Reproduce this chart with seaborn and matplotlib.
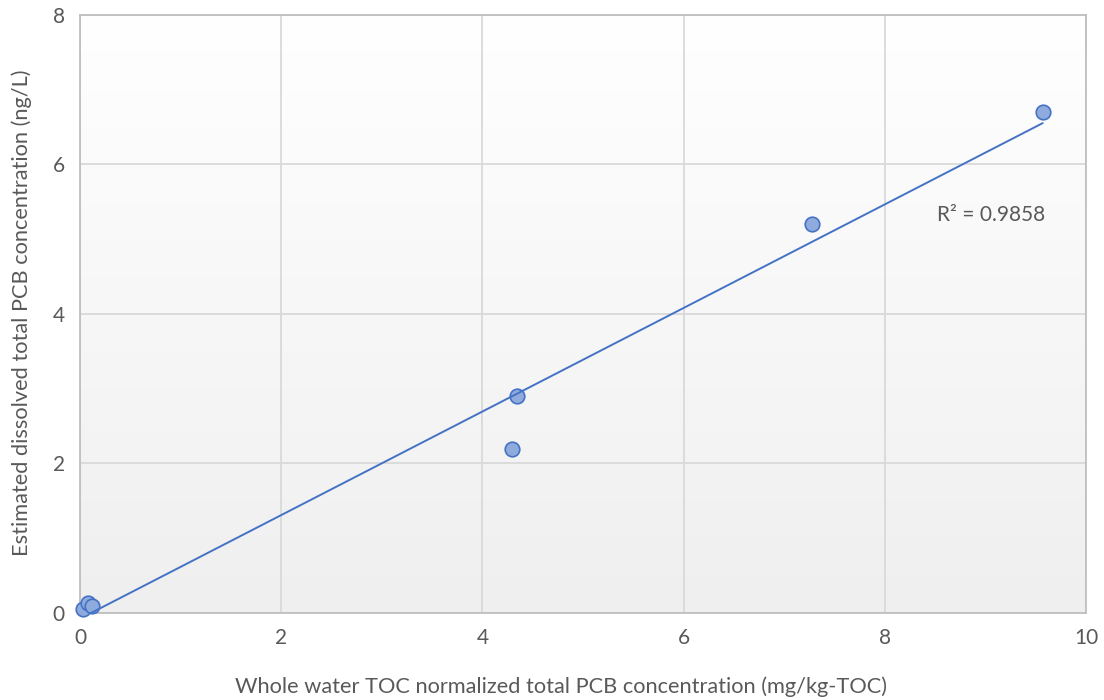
import numpy as np
import pandas as pd
import matplotlib
matplotlib.use("Agg")
import matplotlib.pyplot as plt
from matplotlib.colors import LinearSegmentedColormap
import seaborn as sns

# Whole water TOC-normalized PCB vs estimated dissolved PCB
toc_norm_pcb = [0.03, 0.08, 0.12, 4.29, 4.34, 7.28, 9.57]
dissolved_pcb = [0.05, 0.13, 0.10, 2.20, 2.90, 5.20, 6.70]
r2_label = "R² = 0.9858"

x_ticks = [0, 2, 4, 6, 8, 10]
y_ticks = [0, 2, 4, 6, 8]

df = pd.DataFrame({"x": toc_norm_pcb, "y": dissolved_pcb})

sns.set_theme(style="white")
plt.rcParams["font.family"] = ["Lato", "DejaVu Sans"]

text_grey = "#595959"
grid_grey = "#d9d9d9"
blue_edge = "#4472c4"
blue_fill = "#8faadc"

fig = plt.figure(figsize=(11.04, 7.0), dpi=100)
ax = fig.add_axes([0.0725, 0.1243, 0.9112, 0.8543])

# Plot-area shading: white at the top fading to light grey at the bottom
grad = np.linspace(0, 1, 256).reshape(-1, 1)
cmap = LinearSegmentedColormap.from_list("bg", ["#ffffff", "#efefef"])
ax.imshow(grad, cmap=cmap, aspect="auto", extent=[0, 10, 0, 8],
          origin="upper", zorder=0, interpolation="bicubic")

sns.scatterplot(data=df, x="x", y="y", ax=ax, s=110, color=blue_fill,
                edgecolor=blue_edge, linewidth=1.2, zorder=3, legend=False,
                clip_on=False)
sns.regplot(data=df, x="x", y="y", ax=ax, scatter=False, ci=None,
            truncate=True, color=blue_edge, line_kws={"lw": 1.4, "zorder": 4})

ax.set_xlim(0, 10)
ax.set_ylim(0, 8)
ax.set_xticks(x_ticks)
ax.set_yticks(y_ticks)
ax.grid(True, color=grid_grey, lw=1.3, zorder=1)
ax.set_axisbelow(True)
for sp in ax.spines.values():
    sp.set_color("#bfbfbf")
    sp.set_linewidth(1.3)
    sp.set_visible(True)

ax.tick_params(axis="both", length=0, labelsize=15, colors=text_grey, pad=11)
ax.set_xlabel("Whole water TOC normalized total PCB concentration (mg/kg-TOC)",
              fontsize=15.7, color=text_grey)
ax.set_ylabel("Estimated dissolved total PCB concentration (ng/L)",
              fontsize=15.7, color=text_grey)
ax.xaxis.set_label_coords(0.478, -0.106)
ax.yaxis.set_label_coords(-0.048, 0.502)

ax.text(8.52, 5.33, r2_label, fontsize=15, color=text_grey,
        ha="left", va="center", zorder=5)

fig.savefig("out.png", dpi=100)
